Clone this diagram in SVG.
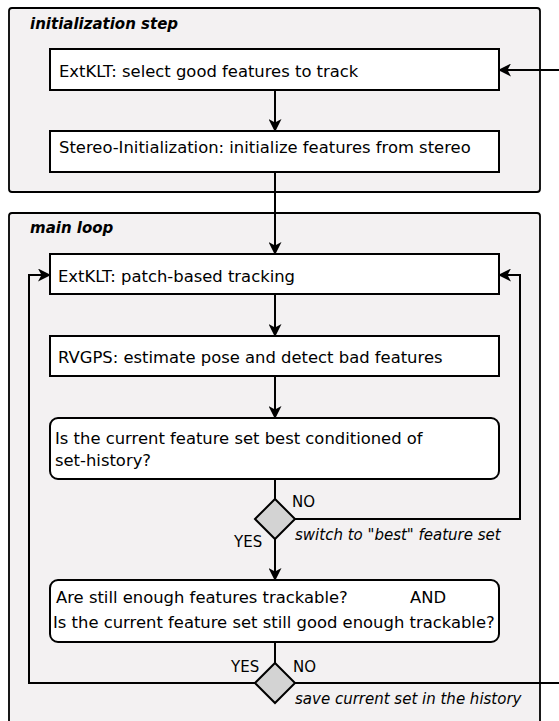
<svg xmlns="http://www.w3.org/2000/svg" width="559" height="721" viewBox="0 0 559 721">
<defs>
<style>
.grp{fill:#f3f1f2;stroke:#000;stroke-width:1.8}
.box{fill:#fff;stroke:#000;stroke-width:2}
.dia{fill:#d3d3d3;stroke:#000;stroke-width:2}
.t{font-family:"DejaVu Sans",sans-serif;font-size:16.4px;fill:#000}
.ti{font-family:"DejaVu Sans",sans-serif;font-size:15px;font-style:italic;fill:#000}
.tb{font-family:"DejaVu Sans",sans-serif;font-size:15px;font-style:italic;font-weight:bold;fill:#000}
.l{font-family:"DejaVu Sans",sans-serif;font-size:15px;fill:#000}
.c{fill:none;stroke:#000;stroke-width:2}
</style>
<marker id="ah" viewBox="0 0 13 13" refX="12" refY="6.5" markerWidth="13" markerHeight="13" markerUnits="userSpaceOnUse" orient="auto">
<path d="M0,0 L13,6.5 L0,13 L3.5,6.5 Z" fill="#000"/>
</marker>
</defs>
<g id="init-step">
<rect class="grp" x="9" y="8" width="531" height="184" rx="3"/>
<text class="tb" x="30" y="29">initialization step</text>
</g>
<g id="main-loop">
<rect class="grp" x="9" y="213" width="531" height="520" rx="3"/>
<text class="tb" x="30" y="233">main loop</text>
</g>
<g id="select">
<rect class="box" x="50" y="49" width="449" height="41"/>
<text class="t" x="59" y="77">ExtKLT: select good features to track</text>
</g>
<g id="stereo">
<rect class="box" x="50" y="131" width="449" height="41"/>
<text class="t" x="59" y="153">Stereo-Initialization: initialize features from stereo</text>
</g>
<g id="tracking">
<rect class="box" x="50" y="254" width="449" height="40"/>
<text class="t" x="58" y="282">ExtKLT: patch-based tracking</text>
</g>
<g id="rvgps">
<rect class="box" x="50" y="336" width="449" height="40"/>
<text class="t" x="58" y="363">RVGPS: estimate pose and detect bad features</text>
</g>
<g id="best">
<rect class="box" x="50" y="418" width="449" height="61" rx="8"/>
<text class="t" x="55" y="444">Is the current feature set best conditioned of</text>
<text class="t" x="55" y="466">set-history?</text>
</g>
<g id="dec1">
<path class="dia" d="M275,499 L295,519 L275,539 L255,519 Z"/>
</g>
<g id="enough">
<rect class="box" x="50" y="580" width="449" height="62" rx="8"/>
<text class="t" x="56" y="603">Are still enough features trackable?</text>
<text class="t" x="410" y="603">AND</text>
<text class="t" x="53" y="628">Is the current feature set still good enough trackable?</text>
</g>
<g id="dec2">
<path class="dia" d="M275,663 L295,683 L275,703 L255,683 Z"/>
</g>
<g id="connectors">
<path class="c" d="M275,90 L275,131" marker-end="url(#ah)"/>
<path class="c" d="M275,172 L275,254" marker-end="url(#ah)"/>
<path class="c" d="M275,294 L275,336" marker-end="url(#ah)"/>
<path class="c" d="M275,376 L275,418" marker-end="url(#ah)"/>
<path class="c" d="M275,479 L275,499"/>
<path class="c" d="M275,539 L275,580" marker-end="url(#ah)"/>
<path class="c" d="M295,519 L520,519 L520,275 L499,275" marker-end="url(#ah)"/>
<path class="c" d="M275,642 L275,663"/>
<path class="c" d="M255,683 L29,683 L29,275 L50,275" marker-end="url(#ah)"/>
<path class="c" d="M295,683 L570,683"/>
<path class="c" d="M570,70 L499,70" marker-end="url(#ah)"/>
<text class="l" x="292" y="507">NO</text>
<text class="l" x="234" y="547">YES</text>
<text class="ti" x="295" y="540">switch to "best" feature set</text>
<text class="l" x="231" y="672">YES</text>
<text class="l" x="293" y="672">NO</text>
<text class="ti" x="295" y="704">save current set in the history</text>
</g>
</svg>
